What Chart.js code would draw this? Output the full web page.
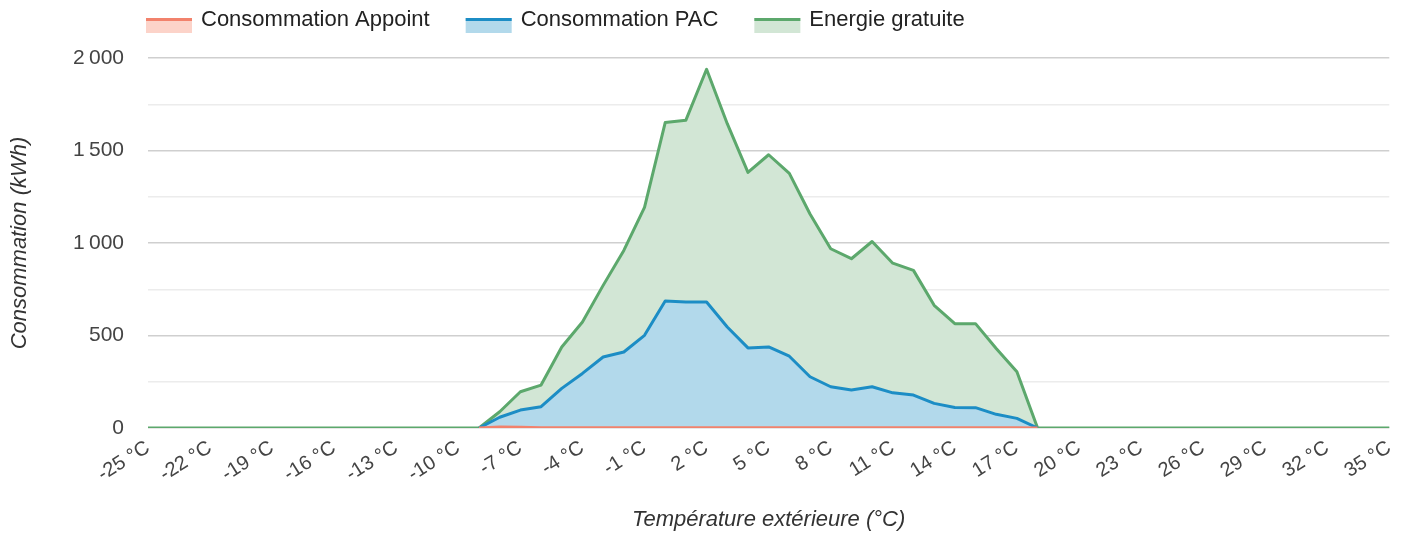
<!DOCTYPE html>
<html>
<head>
<meta charset="utf-8">
<script src="https://cdn.jsdelivr.net/npm/chart.js@4.4.0/dist/chart.umd.min.js"></script>
<style>
  html, body { margin: 0; padding: 0; background: #ffffff; }
  #wrap { width: 1410px; height: 537px; position: relative; }
</style>
</head>
<body>
<div id="wrap"><canvas id="c" width="1410" height="537"></canvas></div>
<script>
// Outdoor temperatures (°C), one point per degree
const temperatures = [-25,-24,-23,-22,-21,-20,-19,-18,-17,-16,-15,-14,-13,-12,-11,-10,-9,-8,-7,-6,-5,-4,-3,-2,-1,0,1,2,3,4,5,6,7,8,9,10,11,12,13,14,15,16,17,18,19,20,21,22,23,24,25,26,27,28,29,30,31,32,33,34,35];
// Temperatures that carry an axis label
const tickTemperatures = [-25,-22,-19,-16,-13,-10,-7,-4,-1,2,5,8,11,14,17,20,23,26,29,32,35];

// Series values (kWh), stacked: Appoint + PAC + Energie gratuite
const consommationAppoint = [null,null,null,null,null,null,null,null,null,null,null,null,null,null,null,null,0,6,4,2,2,2,2,2,2,2,2,2,2,2,2,2,2,2,2,2,2,2,2,2,2,2,2,0,null,null,null,null,null,null,null,null,null,null,null,null,null,null,null,null,null];
const consommationPAC = [null,null,null,null,null,null,null,null,null,null,null,null,null,null,null,null,0,52,93,113,212,293,382,409,499,684,679,679,544,431,436,386,275,221,203,221,188,176,131,109,108,72,50,0,null,null,null,null,null,null,null,null,null,null,null,null,null,null,null,null,null];
const energieGratuite = [0,0,0,0,0,0,0,0,0,0,0,0,0,0,0,0,0,30,99,117,224,278,387,549,692,965,983,1258,1099,949,1039,988,880,746,710,785,701,674,530,453,454,356,252,0,0,0,0,0,0,0,0,0,0,0,0,0,0,0,0,0,0];

const seriesNames = ['Consommation Appoint', 'Consommation PAC', 'Energie gratuite'];
const lineColors = ['#f2826c', '#1c8dc5', '#5ca86c'];
const fillColors = ['#fcd3c9', '#b2d9eb', '#d2e6d5'];

const FONT = "'Liberation Sans', Arial, Helvetica, sans-serif";

const legendPlugin = {
  id: 'customLegend',
  afterDraw(chart) {
    const ctx = chart.ctx;
    ctx.save();
    ctx.font = '22px ' + FONT;
    ctx.textBaseline = 'alphabetic';
    let x = 146;
    seriesNames.forEach((name, i) => {
      ctx.fillStyle = fillColors[i];
      ctx.fillRect(x, 18, 46, 15);
      ctx.fillStyle = lineColors[i];
      ctx.fillRect(x, 18, 46, 3);
      ctx.fillStyle = '#222222';
      ctx.fillText(name, x + 55, 26);
      x += 55 + ctx.measureText(name).width + 36;
    });
    ctx.restore();
  }
};

const fmt = v => {
  const s = String(Math.abs(v));
  const parts = s.replace(/\B(?=(\d{3})+(?!\d))/g, '\u202F');
  return (v < 0 ? '-' : '') + parts;
};

new Chart(document.getElementById('c'), {
  type: 'line',
  data: {
    labels: temperatures,
    datasets: [
      { label: seriesNames[0], data: consommationAppoint, borderColor: lineColors[0], backgroundColor: fillColors[0], fill: 'origin' },
      { label: seriesNames[1], data: consommationPAC, borderColor: lineColors[1], backgroundColor: fillColors[1], fill: 'origin' },
      { label: seriesNames[2], data: energieGratuite, borderColor: lineColors[2], backgroundColor: fillColors[2], fill: 'origin' }
    ]
  },
  options: {
    responsive: false,
    animation: false,
    events: [],
    layout: { padding: { top: 58, right: 20, left: 0, bottom: 0 } },
    elements: {
      line: { borderWidth: 3, tension: 0, borderJoinStyle: 'round' },
      point: { radius: 0 }
    },
    plugins: { legend: { display: false }, tooltip: { enabled: false } },
    scales: {
      x: {
        type: 'category',
        offset: false,
        grid: { display: false, drawTicks: false },
        border: { display: false },
        ticks: {
          autoSkip: false,
          minRotation: 32,
          maxRotation: 32,
          padding: 8,
          color: '#444444',
          font: { family: FONT, size: 20 },
          callback: (value, index) => {
            const t = temperatures[index];
            return tickTemperatures.includes(t) ? t + ' °C' : '';
          }
        },
        title: {
          display: true,
          text: 'Température extérieure (°C)',
          color: '#333333',
          font: { family: FONT, size: 22, style: 'italic' },
          padding: { top: 0, bottom: 4 }
        },
        afterFit: s => { s.height = 109; }
      },
      y: {
        stacked: true,
        min: 0,
        max: 2000,
        grid: {
          drawTicks: false,
          color: ctx => (ctx.tick && ctx.tick.value % 500 === 0) ? '#cfcfcf' : '#ececec',
          lineWidth: 1.5
        },
        border: { display: false },
        ticks: {
          stepSize: 250,
          padding: 24,
          color: '#444444',
          font: { family: FONT, size: 21 },
          callback: v => (v % 500 === 0 ? fmt(v) : '')
        },
        title: {
          display: true,
          text: 'Consommation (kWh)',
          color: '#333333',
          font: { family: FONT, size: 22, style: 'italic' },
          padding: { top: 7, bottom: 0 }
        },
        afterFit: s => { s.width = 148; }
      }
    }
  },
  plugins: [legendPlugin]
});
</script>
</body>
</html>
